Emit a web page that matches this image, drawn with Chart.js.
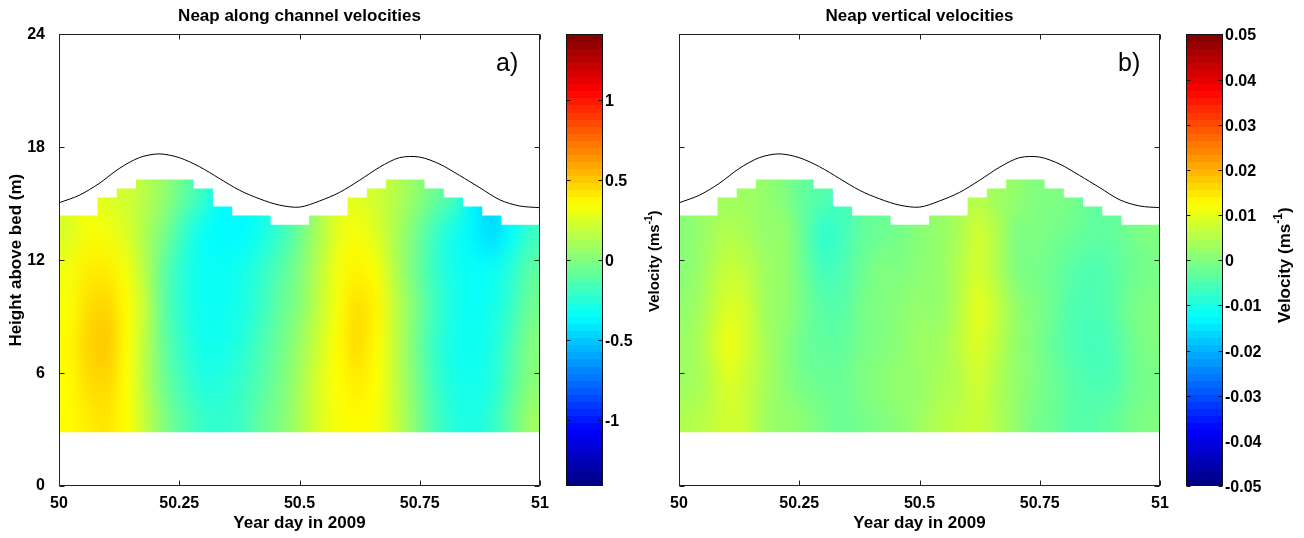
<!DOCTYPE html>
<html>
<head>
<meta charset="utf-8">
<script src="https://cdn.jsdelivr.net/npm/chart.js@4.4.1/dist/chart.umd.min.js"></script>
<style>
  html, body { margin: 0; padding: 0; background: #fff; }
  #wrap { position: relative; width: 1304px; height: 538px; overflow: hidden; }
  #cA { position: absolute; left: 0; top: 0; }
  #cB { position: absolute; left: 640px; top: 0; }
</style>
</head>
<body>
<div id="wrap">
  <canvas id="cA" width="670" height="538"></canvas>
  <canvas id="cB" width="664" height="538"></canvas>
</div>
<script>
/* Neap-tide ADCP sections, year day 50 of 2009.
   Colour fields at a few heights per profile;
   the heat map is drawn through the chart scales and clipped to the good bins. */
const FONT = '"Liberation Sans", Arial, Helvetica, sans-serif';

// profile centres (year day) - one column each
const profileDay = [50.02, 50.06, 50.10, 50.14, 50.18, 50.22, 50.26, 50.30, 50.34, 50.38, 50.42, 50.46, 50.50,
                    50.54, 50.58, 50.62, 50.66, 50.70, 50.74, 50.78, 50.82, 50.86, 50.90, 50.94, 50.98];
// bins: first good bin starts 2.85 m above bed, 0.48 m each; count of good bins per profile
const binBottom = 2.85;
const binSize = 0.48;
const goodBins = [24, 24, 26, 27, 28, 28, 28, 27, 25, 24, 24, 23, 23, 24, 24, 26, 27, 28, 28, 27, 26, 25, 24, 23, 23];

// heights (m) at which the velocities were read
const rowHeight = [3.5, 5.5, 7.5, 9.5, 11.5, 13.5, 15.5];

// along channel velocity (m/s), one row per height, bottom to top
const alongVel = [
  [0.36, 0.40, 0.42, 0.35, 0.18, 0.00, -0.12, -0.20, -0.22, -0.18, -0.08, 0.00, 0.12, 0.25, 0.33, 0.36, 0.33, 0.20, 0.02, -0.15, -0.25, -0.28, -0.22, -0.08, 0.08],
  [0.36, 0.44, 0.46, 0.35, 0.15, -0.05, -0.18, -0.26, -0.25, -0.20, -0.12, -0.02, 0.10, 0.25, 0.35, 0.40, 0.35, 0.18, 0.00, -0.18, -0.28, -0.30, -0.26, -0.12, 0.02],
  [0.37, 0.47, 0.50, 0.36, 0.15, -0.08, -0.22, -0.30, -0.30, -0.25, -0.15, -0.05, 0.08, 0.22, 0.36, 0.45, 0.36, 0.18, -0.02, -0.20, -0.30, -0.32, -0.28, -0.15, 0.00],
  [0.34, 0.44, 0.47, 0.36, 0.18, -0.10, -0.25, -0.32, -0.32, -0.28, -0.20, -0.08, 0.02, 0.18, 0.33, 0.44, 0.38, 0.18, 0.00, -0.17, -0.28, -0.33, -0.30, -0.20, -0.05],
  [0.32, 0.40, 0.40, 0.32, 0.14, -0.10, -0.25, -0.32, -0.33, -0.30, -0.22, -0.12, 0.00, 0.16, 0.32, 0.38, 0.33, 0.14, -0.04, -0.20, -0.30, -0.34, -0.33, -0.24, -0.10],
  [0.25, 0.33, 0.32, 0.25, 0.12, -0.02, -0.20, -0.33, -0.36, -0.36, -0.30, -0.20, -0.05, 0.12, 0.28, 0.33, 0.25, 0.12, -0.02, -0.18, -0.30, -0.38, -0.45, -0.35, -0.20],
  [null, null, 0.25, 0.22, 0.15, 0.05, -0.08, -0.20, null, null, null, null, null, null, null, 0.26, 0.22, 0.15, 0.05, -0.05, -0.15, null, null, null, null]
];

// vertical velocity (m/s), same layout
const vertVel = [
  [0.005, 0.006, 0.008, 0.007, 0.003, 0.002, 0.001, -0.001, -0.002, -0.001, 0.000, 0.001, 0.003, 0.005, 0.006, 0.007, 0.005, 0.002, -0.001, -0.002, -0.004, -0.004, -0.003, -0.001, 0.000],
  [0.003, 0.005, 0.009, 0.007, 0.004, 0.001, -0.001, -0.002, -0.002, 0.000, 0.001, 0.002, 0.002, 0.004, 0.005, 0.008, 0.005, 0.002, 0.000, -0.002, -0.004, -0.005, -0.005, -0.002, -0.001],
  [0.003, 0.006, 0.011, 0.008, 0.004, 0.001, -0.002, -0.003, -0.003, -0.001, 0.000, 0.001, 0.003, 0.003, 0.006, 0.009, 0.006, 0.002, 0.000, -0.003, -0.005, -0.006, -0.005, -0.002, 0.000],
  [0.002, 0.005, 0.009, 0.008, 0.003, 0.002, -0.001, -0.004, -0.004, -0.001, 0.000, 0.001, 0.002, 0.002, 0.005, 0.010, 0.007, 0.002, 0.000, -0.002, -0.005, -0.005, -0.004, -0.001, 0.000],
  [0.001, 0.004, 0.007, 0.006, 0.003, 0.002, -0.002, -0.006, -0.005, -0.002, 0.000, 0.000, 0.001, 0.002, 0.005, 0.008, 0.005, 0.000, -0.001, -0.002, -0.004, -0.005, -0.004, -0.002, -0.001],
  [0.001, 0.003, 0.005, 0.004, 0.002, 0.002, -0.003, -0.008, -0.006, -0.003, -0.002, -0.001, 0.001, 0.002, 0.004, 0.008, 0.005, 0.000, 0.000, -0.001, -0.002, -0.003, -0.003, -0.001, 0.000],
  [null, null, 0.003, 0.003, 0.002, 0.000, -0.003, -0.004, null, null, null, null, null, null, null, 0.005, 0.003, 0.002, 0.000, 0.000, -0.001, null, null, null, null]
];

// water surface (m above bed), hourly
const surfDay = [50.000, 50.042, 50.083, 50.125, 50.167, 50.208, 50.250, 50.292, 50.333, 50.375, 50.417, 50.458, 50.500,
                 50.542, 50.583, 50.625, 50.667, 50.708, 50.750, 50.792, 50.833, 50.875, 50.917, 50.958, 51.000];
const surfHeight = [15.05, 15.45, 16.07, 16.87, 17.45, 17.65, 17.45, 16.97, 16.35, 15.72, 15.26, 14.93, 14.82,
                    15.15, 15.60, 16.25, 16.95, 17.45, 17.48, 17.10, 16.50, 15.85, 15.20, 14.88, 14.79];

// axis ticks
const dayTicks = [50, 50.25, 50.5, 50.75, 51];
const heightTicks = [0, 6, 12, 18, 24];
const alongRange = [-1.41, 1.41];
const alongCbTicks = [-1, -0.5, 0, 0.5, 1];
const vertRange = [-0.05, 0.05];
const vertCbTicks = [-0.05, -0.04, -0.03, -0.02, -0.01, 0, 0.01, 0.02, 0.03, 0.04, 0.05];

function jet(n) {
  const c = (v) => Math.max(0, Math.min(1, v));
  return [
    c(Math.min(4 * n - 1.5, -4 * n + 4.5)),
    c(Math.min(4 * n - 0.5, -4 * n + 3.5)),
    c(Math.min(4 * n + 0.5, -4 * n + 2.5))
  ].map((v) => Math.round(v * 255));
}

const heatmap = {
  id: "heatmap",
  beforeDatasetsDraw(chart, args, opts) {
    const { ctx } = chart;
    const xs = chart.scales.x, ys = chart.scales.y;
    const grid = opts.grid, range = opts.range;
    const nc = profileDay.length, nr = rowHeight.length;
    const img = document.createElement("canvas");
    img.width = nc; img.height = nr;
    const ic = img.getContext("2d");
    const id = ic.createImageData(nc, nr);
    for (let c = 0; c < nc; c++) {
      let last = 0;
      for (let r = 0; r < nr; r++) {
        let v = grid[r][c];
        if (v === null) v = last; else last = v;
        const [R, G, B] = jet((v - range[0]) / (range[1] - range[0]));
        const p = ((nr - 1 - r) * nc + c) * 4;
        id.data[p] = R; id.data[p + 1] = G; id.data[p + 2] = B; id.data[p + 3] = 255;
      }
    }
    ic.putImageData(id, 0, 0);

    const half = (profileDay[1] - profileDay[0]) / 2;
    const rh = (rowHeight[1] - rowHeight[0]) / 2;
    const yb = ys.getPixelForValue(binBottom);
    ctx.save();
    ctx.beginPath();
    ctx.moveTo(xs.getPixelForValue(profileDay[0] - half), yb);
    profileDay.forEach((d, i) => {
      const yt = ys.getPixelForValue(binBottom + binSize * goodBins[i]);
      ctx.lineTo(xs.getPixelForValue(d - half), yt);
      ctx.lineTo(xs.getPixelForValue(d + half), yt);
    });
    ctx.lineTo(xs.getPixelForValue(profileDay[nc - 1] + half), yb);
    ctx.closePath();
    ctx.clip();
    ctx.imageSmoothingEnabled = true;
    ctx.imageSmoothingQuality = "high";
    const x0 = xs.getPixelForValue(profileDay[0] - half), x1 = xs.getPixelForValue(profileDay[nc - 1] + half);
    const y0 = ys.getPixelForValue(rowHeight[nr - 1] + rh), y1 = ys.getPixelForValue(rowHeight[0] - rh);
    ctx.drawImage(img, x0, y0, x1 - x0, y1 - y0);
    ctx.restore();
  }
};

function drawCbTitle(ctx, cx, cy, size) {
  ctx.save();
  ctx.translate(cx, cy);
  ctx.rotate(-Math.PI / 2);
  const big = `bold ${size}px ${FONT}`, small = `bold ${Math.round(size * 0.68)}px ${FONT}`;
  const parts = [["Velocity (ms", big, 0], ["-1", small, -size * 0.36], [")", big, 0]];
  let w = 0;
  parts.forEach((p) => { ctx.font = p[1]; p.push(ctx.measureText(p[0]).width); w += p[3]; });
  let x = -w / 2;
  ctx.textBaseline = "middle"; ctx.textAlign = "left"; ctx.fillStyle = "#000";
  parts.forEach((p) => { ctx.font = p[1]; ctx.fillText(p[0], x, p[2]); x += p[3]; });
  ctx.restore();
}

const frame = {
  id: "frame",
  afterDraw(chart, args, opts) {
    const { ctx, chartArea: a } = chart;
    const xs = chart.scales.x, ys = chart.scales.y, cb = chart.scales.cb;
    const L = Math.round(a.left) + 0.5, R = Math.round(a.right) - 0.5;
    const T = Math.round(a.top) + 0.5, B = Math.round(a.bottom) - 0.5;
    ctx.save();
    ctx.strokeStyle = "#222";
    ctx.lineWidth = 1;
    ctx.strokeRect(L, T, R - L, B - T);
    ctx.beginPath();
    xs.ticks.forEach((t) => {
      const px = Math.round(xs.getPixelForValue(t.value)) + 0.5;
      ctx.moveTo(px, B); ctx.lineTo(px, B - 5);
      ctx.moveTo(px, T); ctx.lineTo(px, T + 5);
    });
    ys.ticks.forEach((t) => {
      const py = Math.round(ys.getPixelForValue(t.value)) + 0.5;
      ctx.moveTo(L, py); ctx.lineTo(L + 5, py);
      ctx.moveTo(R, py); ctx.lineTo(R - 5, py);
    });
    ctx.stroke();

    // panel letter
    ctx.fillStyle = "#000";
    ctx.font = `25px ${FONT}`;
    ctx.textAlign = "left"; ctx.textBaseline = "alphabetic";
    ctx.fillText(opts.letter, a.right - opts.letterDx, a.top + 37);

    // colour bar, its ticks and labels
    const bl = Math.round(a.right + 26) + 0.5, bw = 36;
    const n = 64, lo = cb.min, hi = cb.max;
    for (let i = 0; i < n; i++) {
      const v0 = lo + (hi - lo) * i / n, v1 = lo + (hi - lo) * (i + 1) / n;
      const [r, g, b] = jet((i + 0.5) / n);
      ctx.fillStyle = `rgb(${r},${g},${b})`;
      const y0 = cb.getPixelForValue(v1), y1 = cb.getPixelForValue(v0);
      ctx.fillRect(bl, Math.floor(y0), bw, Math.ceil(y1) - Math.floor(y0));
    }
    ctx.strokeStyle = "#111";
    const cTop = Math.round(cb.getPixelForValue(hi)) + 0.5, cBot = Math.round(cb.getPixelForValue(lo)) - 0.5;
    ctx.strokeRect(bl, cTop, bw, cBot - cTop);
    ctx.beginPath();
    ctx.fillStyle = "#000";
    ctx.font = `bold 16px ${FONT}`;
    ctx.textAlign = "left"; ctx.textBaseline = "middle";
    cb.ticks.forEach((t) => {
      const py = Math.round(cb.getPixelForValue(t.value)) + 0.5;
      ctx.moveTo(bl, py); ctx.lineTo(bl + 4, py);
      ctx.moveTo(bl + bw, py); ctx.lineTo(bl + bw - 4, py);
      ctx.fillText(String(t.value), bl + bw + 2.5, py + 1);
    });
    ctx.stroke();
    drawCbTitle(ctx, a.right + opts.cbTitleDx, (a.top + a.bottom) / 2 + opts.cbTitleDy, opts.cbTitleSize);
    ctx.restore();
  }
};

const tickFont = { family: FONT, size: 16, weight: "bold" };
const titleFont = { family: FONT, size: 17, weight: "bold" };
const fixTicks = (arr) => (s) => { s.ticks = arr.map((v) => ({ value: v })); };

function panel(canvasId, p) {
  return new Chart(document.getElementById(canvasId), {
    type: "scatter",
    data: {
      datasets: [{
        data: surfDay.map((d, i) => ({ x: d, y: surfHeight[i] })),
        showLine: true, borderColor: "#000", borderWidth: 1, pointRadius: 0, tension: 0.3
      }]
    },
    options: {
      responsive: false, animation: false, events: [],
      layout: { padding: 0 },
      plugins: {
        legend: { display: false }, tooltip: { enabled: false },
        title: { display: true, text: p.title, fullSize: false, color: "#000", font: titleFont, padding: { top: 6, bottom: 8 } },
        heatmap: { grid: p.grid, range: p.range },
        frame: { letter: p.letter, letterDx: p.letterDx, cbTitleDx: p.cbTitleDx, cbTitleDy: p.cbTitleDy, cbTitleSize: p.cbTitleSize }
      },
      scales: {
        x: {
          type: "linear", min: 50, max: 51,
          afterBuildTicks: fixTicks(dayTicks),
          ticks: { color: "#000", font: tickFont, padding: 0, maxRotation: 0, autoSkip: false, callback: (v) => String(v) },
          grid: { display: false }, border: { display: false },
          title: { display: true, text: "Year day in 2009", color: "#000", font: titleFont, padding: { top: 0, bottom: 4 } },
          afterFit: (s) => { s.height = 52; }
        },
        y: {
          type: "linear", min: 0, max: 24,
          afterBuildTicks: fixTicks(heightTicks),
          ticks: { color: "#000", font: tickFont, padding: 6, callback: (v) => (p.yLabels ? String(v) : "") },
          grid: { display: false }, border: { display: false },
          title: { display: p.yLabels, text: "Height above bed (m)", color: "#000", font: titleFont, padding: { top: 6, bottom: 0 } },
          afterFit: (s) => { s.width = p.yWidth; }
        },
        cb: {
          type: "linear", position: "right", min: p.range[0], max: p.range[1],
          afterBuildTicks: fixTicks(p.cbTicks),
          ticks: { display: false, padding: 0 },
          grid: { display: false, drawTicks: false }, border: { display: false },
          afterFit: (s) => { s.width = p.cbWidth; }
        }
      }
    },
    plugins: [heatmap, frame]
  });
}

panel("cA", {
  title: "Neap along channel velocities", grid: alongVel, range: alongRange, cbTicks: alongCbTicks,
  letter: "a)", letterDx: 44, yLabels: true, yWidth: 59, cbWidth: 130,
  cbTitleDx: 115, cbTitleDy: 1, cbTitleSize: 15
});
panel("cB", {
  title: "Neap vertical velocities", grid: vertVel, range: vertRange, cbTicks: vertCbTicks,
  letter: "b)", letterDx: 42, yLabels: false, yWidth: 39, cbWidth: 144,
  cbTitleDx: 125, cbTitleDy: 5, cbTitleSize: 17
});
</script>
</body>
</html>
